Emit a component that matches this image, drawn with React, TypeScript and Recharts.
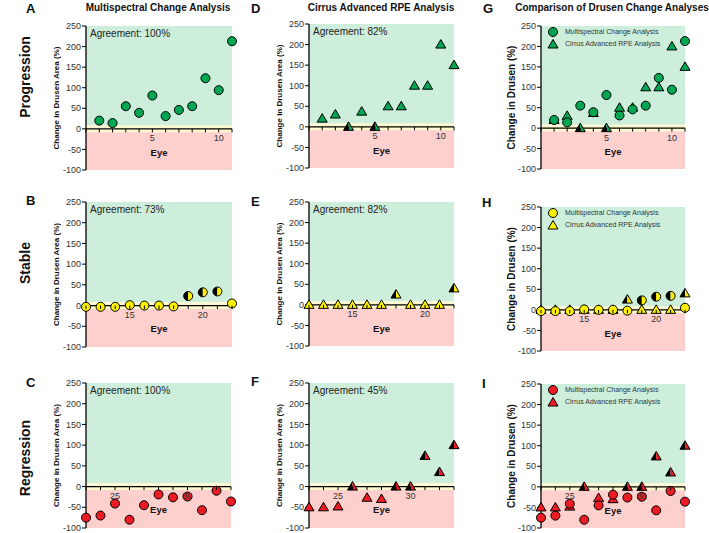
import React from 'react';
import {
  ScatterChart,
  Scatter,
  XAxis,
  YAxis,
  ReferenceArea,
  ReferenceLine,
  ReferenceDot,
  Legend,
} from 'recharts';

const FONT = '"Liberation Sans", Arial, Helvetica, sans-serif';

// progression group, eyes 1-11
const progressionEyes = [1, 2, 3, 4, 5, 6, 7, 8, 9, 10, 11];
const progressionMultispectral = [20, 14, 55, 39, 81, 31, 46, 55, 123, 94, 213];
const progressionCirrus = [20, 30, 0, 37, 0, 50, 50, 100, 100, 200, 150];
const progressionMultispectralMismatch: number[] = [];
const progressionCirrusMismatch = [3, 5];
const progressionLabels = [5, 10];

// stable group, eyes 12-22
const stableEyes = [12, 13, 14, 15, 16, 17, 18, 19, 20, 21, 22];
const stableMultispectral = [-3, -3, -3, 1, 0, 0, -2, 23, 32, 34, 5];
const stableCirrus = [0, 0, 0, 0, 0, 0, 25, 0, 0, 0, 40];
const stableMultispectralMismatch = [19, 20, 21];
const stableCirrusMismatch = [18, 22];
const stableLabels = [15, 20];

// regression group, eyes 23-33
const regressionEyes = [23, 24, 25, 26, 27, 28, 29, 30, 31, 32, 33];
const regressionMultispectral = [-75, -70, -41, -80, -45, -19, -26, -24, -57, -10, -36];
const regressionCirrus = [-50, -50, -48, 0, -27, -30, 0, 0, 74, 35, 100];
const regressionMultispectralMismatch: number[] = [];
const regressionCirrusMismatch = [26, 29, 30, 31, 32, 33];
const regressionLabels = [25, 30];

const agreementMultispectral = ['Agreement: 100%', 'Agreement: 73%', 'Agreement: 100%'];
const agreementCirrus = ['Agreement: 82%', 'Agreement: 82%', 'Agreement: 45%'];

const Y_MIN = -100;
const Y_MAX = 250;
const yTicks = [-100, -50, 0, 50, 100, 150, 200, 250];
const BAND = 8; // half width of the "no change" band

const GREEN = '#00a651';
const YELLOW = '#fff200';
const RED = '#ed1c24';

type Pt = { eye: number; value: number; mismatch: boolean };

const toPoints = (eyes: number[], values: number[], mismatch: number[]): Pt[] =>
  eyes.map((eye, i) => ({ eye, value: values[i], mismatch: mismatch.includes(eye) }));

function makeShape(kind: 'circle' | 'triangle', color: string) {
  return (props: any) => {
    const { cx, cy, payload } = props;
    if (cx == null || cy == null) return <g />;
    const half = payload && payload.mismatch;
    if (kind === 'circle') {
      const r = 4.5;
      if (!half)
        return <circle cx={cx} cy={cy} r={r} fill={color} stroke="#000" strokeWidth={1} />;
      return (
        <g>
          <path d={`M${cx},${cy - r} A${r},${r} 0 0 0 ${cx},${cy + r} Z`} fill="#000" />
          <path d={`M${cx},${cy - r} A${r},${r} 0 0 1 ${cx},${cy + r} Z`} fill={color} />
          <circle cx={cx} cy={cy} r={r} fill="none" stroke="#000" strokeWidth={1} />
        </g>
      );
    }
    const w = 5;
    const up = 5;
    const dn = 3.5;
    const outline = `M${cx},${cy - up} L${cx + w},${cy + dn} L${cx - w},${cy + dn} Z`;
    if (!half) return <path d={outline} fill={color} stroke="#000" strokeWidth={1} />;
    return (
      <g>
        <path d={`M${cx},${cy - up} L${cx},${cy + dn} L${cx - w},${cy + dn} Z`} fill="#000" />
        <path d={`M${cx},${cy - up} L${cx + w},${cy + dn} L${cx},${cy + dn} Z`} fill={color} />
        <path d={outline} fill="none" stroke="#000" strokeWidth={1} />
      </g>
    );
  };
}

// tick marks hang under the zero line instead of the plot bottom
const EyeTick = (props: any) => {
  const { x, y, zeroOffset } = props;
  const zy = y - zeroOffset;
  return <line x1={x} x2={x} y1={zy} y2={zy + 3.5} stroke="#000" strokeWidth={1} />;
};

const LegendBox = ({ color }: { color: string }) => (
  <div style={{ fontFamily: FONT, fontSize: 7, color: '#333', lineHeight: '12px' }}>
    <div style={{ display: 'flex', alignItems: 'center', height: 12 }}>
      <svg width={12} height={12}>
        <circle cx={6} cy={6} r={4.5} fill={color} stroke="#000" strokeWidth={1} />
      </svg>
      <span style={{ marginLeft: 6, whiteSpace: 'nowrap' }}>Multispectral Change Analysis</span>
    </div>
    <div style={{ display: 'flex', alignItems: 'center', height: 12 }}>
      <svg width={12} height={12}>
        <path d="M6,1.5 L11,10 L1,10 Z" fill={color} stroke="#000" strokeWidth={1} />
      </svg>
      <span style={{ marginLeft: 6, whiteSpace: 'nowrap' }}>Cirrus Advanced RPE Analysis</span>
    </div>
  </div>
);

type PanelProps = {
  plotLeft: number;
  plotTop: number;
  plotW: number;
  plotH: number;
  domain: [number, number];
  labels: number[];
  circles?: Pt[];
  triangles?: Pt[];
  color: string;
  agreement?: string;
  yTitle: string;
  yTitleSize: number;
  legend?: boolean;
};

function Panel(p: PanelProps) {
  const AX_W = 40;
  const MT = 6;
  const MR = 8;
  const MB = 6;
  const XH = 1;
  const width = AX_W + p.plotW + MR;
  const height = MT + p.plotH + XH + MB;
  const zeroOffset = (p.plotH * (0 - Y_MIN)) / (Y_MAX - Y_MIN);
  const xTicks: number[] = [];
  for (let t = p.domain[0]; t <= p.domain[1]; t++) xTicks.push(t);

  return (
    <div style={{ position: 'absolute', left: p.plotLeft - AX_W, top: p.plotTop - MT }}>
      <ScatterChart width={width} height={height} margin={{ top: MT, right: MR, bottom: MB, left: 0 }}>
        <ReferenceArea
          y1={BAND}
          y2={Y_MAX}
          fill="#cdeedb"
          fillOpacity={1}
          stroke="none"
          label={
            p.agreement
              ? { value: p.agreement, position: 'insideTopLeft', offset: 4, fontSize: 10, fill: '#222', fontFamily: FONT }
              : undefined
          }
        />
        <ReferenceArea y1={-BAND} y2={BAND} fill="#fdf8cf" fillOpacity={1} stroke="none" />
        <ReferenceArea y1={Y_MIN} y2={-BAND} fill="#fdd0cd" fillOpacity={1} stroke="none" />
        <XAxis
          type="number"
          dataKey="eye"
          domain={p.domain}
          ticks={xTicks}
          interval={0}
          height={XH}
          axisLine={false}
          tickLine={false}
          tickSize={0}
          tickMargin={0}
          tick={(tp: any) => <EyeTick {...tp} zeroOffset={zeroOffset} />}
        />
        <YAxis
          type="number"
          dataKey="value"
          domain={[Y_MIN, Y_MAX]}
          ticks={yTicks}
          interval={0}
          width={AX_W}
          axisLine={{ stroke: '#000', strokeWidth: 1.3 }}
          tickLine={{ stroke: '#000', strokeWidth: 1 }}
          tickSize={4}
          tickMargin={1}
          tick={{ fontSize: 9, fill: '#333', fontFamily: FONT }}
          label={{
            value: p.yTitle,
            angle: -90,
            position: 'insideLeft',
            offset: 10,
            style: { textAnchor: 'middle', fontSize: p.yTitleSize, fontWeight: 'bold', fill: '#111', fontFamily: FONT },
          }}
        />
        <ReferenceLine
          y={0}
          stroke="#000"
          strokeWidth={1.3}
          label={{ value: 'Eye', position: 'bottom', offset: 20, fontSize: 9.5, fontWeight: 'bold', fill: '#111', fontFamily: FONT }}
        />
        {p.labels.map((v) => (
          <ReferenceDot
            key={v}
            x={v}
            y={0}
            r={0}
            stroke="none"
            fill="none"
            label={{ value: String(v), position: 'bottom', offset: 6, fontSize: 9, fill: '#333', fontFamily: FONT }}
          />
        ))}
        {p.triangles && (
          <Scatter data={p.triangles} dataKey="value" shape={makeShape('triangle', p.color)} isAnimationActive={false} />
        )}
        {p.circles && (
          <Scatter data={p.circles} dataKey="value" shape={makeShape('circle', p.color)} isAnimationActive={false} />
        )}
        {p.legend && (
          <Legend
            layout="vertical"
            align="center"
            verticalAlign="middle"
            content={() => <LegendBox color={p.color} />}
            wrapperStyle={{ position: 'absolute', left: AX_W + 6, top: MT, width: 140, height: 24 }}
          />
        )}
      </ScatterChart>
    </div>
  );
}

const Letter = ({ x, y, children }: { x: number; y: number; children: React.ReactNode }) => (
  <div
    style={{
      position: 'absolute',
      left: x,
      top: y,
      transform: 'translateY(-50%)',
      fontFamily: FONT,
      fontWeight: 'bold',
      fontSize: 13,
      color: '#111',
      lineHeight: 1,
    }}
  >
    {children}
  </div>
);

const Title = ({ cx, y, children }: { cx: number; y: number; children: React.ReactNode }) => (
  <div
    style={{
      position: 'absolute',
      left: cx,
      top: y,
      transform: 'translate(-50%, -50%)',
      fontFamily: FONT,
      fontWeight: 'bold',
      fontSize: 10,
      color: '#111',
      whiteSpace: 'nowrap',
      lineHeight: 1,
    }}
  >
    {children}
  </div>
);

const RowLabel = ({ cy, children }: { cy: number; children: React.ReactNode }) => (
  <div
    style={{
      position: 'absolute',
      left: 25,
      top: cy,
      transform: 'translate(-50%, -50%) rotate(-90deg)',
      fontFamily: FONT,
      fontWeight: 'bold',
      fontSize: 14,
      color: '#111',
      whiteSpace: 'nowrap',
      lineHeight: 1,
    }}
  >
    {children}
  </div>
);

export default function App() {
  const progM = toPoints(progressionEyes, progressionMultispectral, progressionMultispectralMismatch);
  const progC = toPoints(progressionEyes, progressionCirrus, progressionCirrusMismatch);
  const stabM = toPoints(stableEyes, stableMultispectral, stableMultispectralMismatch);
  const stabC = toPoints(stableEyes, stableCirrus, stableCirrusMismatch);
  const regM = toPoints(regressionEyes, regressionMultispectral, regressionMultispectralMismatch);
  const regC = toPoints(regressionEyes, regressionCirrus, regressionCirrusMismatch);

  const areaTitle = 'Change in Drusen Area (%)';
  const cmpTitle = 'Change in Drusen (%)';

  return (
    <div style={{ position: 'absolute', left: 0, top: 0, width: 709, height: 533, background: '#fff', overflow: 'hidden' }}>
      <RowLabel cy={77}>Progression</RowLabel>
      <RowLabel cy={263}>Stable</RowLabel>
      <RowLabel cy={458}>Regression</RowLabel>

      <Title cx={158} y={8}>Multispectral Change Analysis</Title>
      <Title cx={381} y={8}>Cirrus Advanced RPE Analysis</Title>
      <Title cx={612} y={8}>Comparison of Drusen Change Analyses</Title>

      <Letter x={26} y={8}>A</Letter>
      <Letter x={26} y={200}>B</Letter>
      <Letter x={26} y={382}>C</Letter>
      <Letter x={251} y={8}>D</Letter>
      <Letter x={251} y={201}>E</Letter>
      <Letter x={251} y={381}>F</Letter>
      <Letter x={483} y={8}>G</Letter>
      <Letter x={482} y={202}>H</Letter>
      <Letter x={482} y={383}>I</Letter>

      <Panel plotLeft={86} plotTop={26} plotW={146} plotH={144} domain={[0, 11]} labels={progressionLabels}
        circles={progM} color={GREEN} agreement={agreementMultispectral[0]} yTitle={areaTitle} yTitleSize={8} />
      <Panel plotLeft={86} plotTop={202} plotW={146} plotH={145} domain={[12, 22]} labels={stableLabels}
        circles={stabM} color={YELLOW} agreement={agreementMultispectral[1]} yTitle={areaTitle} yTitleSize={8} />
      <Panel plotLeft={86} plotTop={383} plotW={145} plotH={145} domain={[23, 33]} labels={regressionLabels}
        circles={regM} color={RED} agreement={agreementMultispectral[2]} yTitle={areaTitle} yTitleSize={8} />

      <Panel plotLeft={309} plotTop={24} plotW={145} plotH={144} domain={[0, 11]} labels={progressionLabels}
        triangles={progC} color={GREEN} agreement={agreementCirrus[0]} yTitle={areaTitle} yTitleSize={8} />
      <Panel plotLeft={309} plotTop={202} plotW={145} plotH={144} domain={[12, 22]} labels={stableLabels}
        triangles={stabC} color={YELLOW} agreement={agreementCirrus[1]} yTitle={areaTitle} yTitleSize={8} />
      <Panel plotLeft={309} plotTop={383} plotW={145} plotH={145} domain={[23, 33]} labels={regressionLabels}
        triangles={regC} color={RED} agreement={agreementCirrus[2]} yTitle={areaTitle} yTitleSize={8} />

      <Panel plotLeft={541} plotTop={26} plotW={144} plotH={143} domain={[0, 11]} labels={progressionLabels}
        circles={progM} triangles={progC} color={GREEN} yTitle={cmpTitle} yTitleSize={10} legend />
      <Panel plotLeft={541} plotTop={207} plotW={144} plotH={144} domain={[12, 22]} labels={stableLabels}
        circles={stabM} triangles={stabC} color={YELLOW} yTitle={cmpTitle} yTitleSize={10} legend />
      <Panel plotLeft={541} plotTop={384} plotW={144} plotH={144} domain={[23, 33]} labels={regressionLabels}
        circles={regM} triangles={regC} color={RED} yTitle={cmpTitle} yTitleSize={10} legend />
    </div>
  );
}
